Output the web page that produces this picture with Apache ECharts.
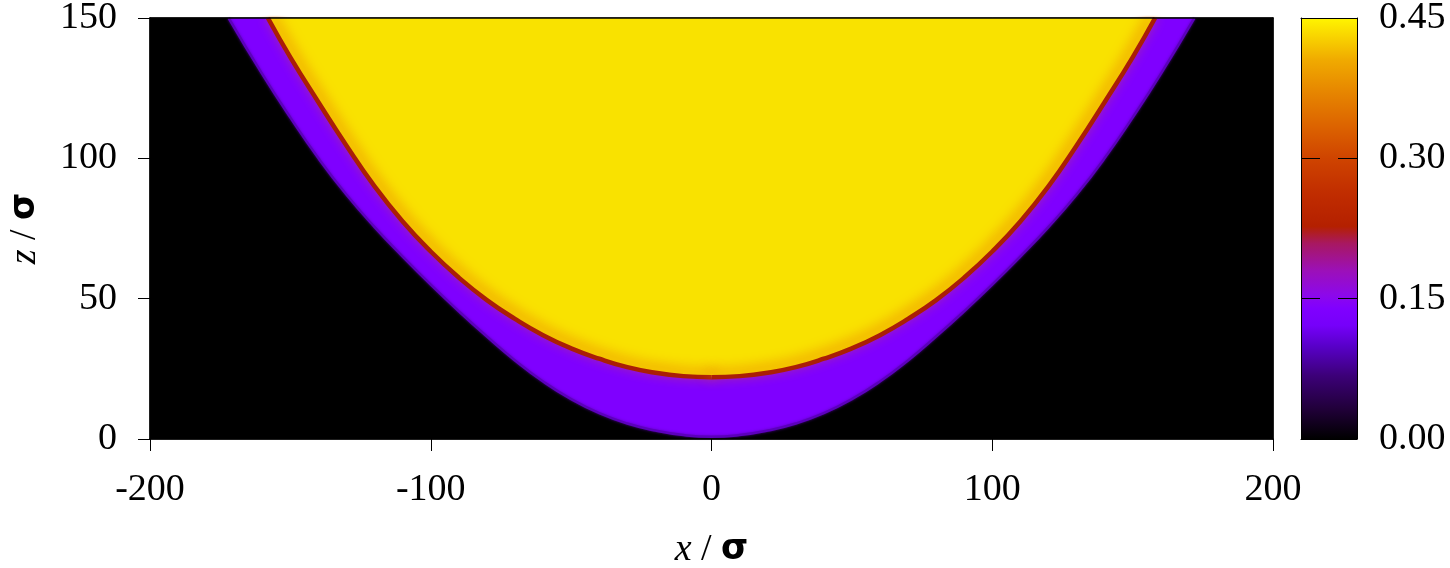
<!DOCTYPE html>
<html>
<head>
<meta charset="utf-8">
<script src="https://cdn.jsdelivr.net/npm/echarts@6.0.0/dist/echarts.min.js"></script>
<style>
  html, body { margin: 0; padding: 0; background: #fff; }
  #chart { width: 1450px; height: 568px; }
</style>
</head>
<body>
<div id="chart"></div>
<script>
// outer edge of the purple band (x / sigma, z / sigma)
const outerX = [-172, -160, -150, -140, -130, -120, -110, -100, -90, -80, -70, -60, -50, -40, -30, -20, -10, 0, 10, 20, 30, 40, 50, 60, 70, 80, 90, 100, 110, 120, 130, 140, 150, 160, 172]
const outerZ = [150, 130, 114.5, 100, 87, 75.5, 65, 55, 45.5, 36.5, 28, 20.5, 14.2, 9.2, 5.5, 3.0, 1.4, 0.8, 1.4, 3.0, 5.5, 9.2, 14.2, 20.5, 28, 36.5, 45.5, 55, 65, 75.5, 87, 100, 114.5, 130, 150]

// edge of the yellow region (centre of the red rim)
const innerX = [-158, -150, -140, -130, -120, -110, -100, -90, -80, -70, -60, -50, -40, -30, -20, -10, 0, 10, 20, 30, 40, 50, 60, 70, 80, 90, 100, 110, 120, 130, 140, 150, 158]
const innerZ = [150, 136, 120, 104.5, 90, 77.5, 66.8, 57.5, 49.5, 42.8, 37, 32.3, 28.6, 25.6, 23.6, 22.4, 22, 22.4, 23.6, 25.6, 28.6, 32.3, 37, 42.8, 49.5, 57.5, 66.8, 77.5, 90, 104.5, 120, 136, 150]

const xTicks = [-200, 200, 100]
const zTicks = [0, 150, 50]
const cbTicks = [0, 0.45, 0.15]

const serif = 'Liberation Serif'
const chart = echarts.init(document.getElementById('chart'))

const outerData = outerX.map((x, i) => [x, outerZ[i]])
const innerData = innerX.map((x, i) => [x, innerZ[i]])
const mid = innerX.indexOf(0)
const innerLeft = innerData.slice(0, mid + 1)
const innerRight = innerData.slice(mid)

const cbGradient = new echarts.graphic.LinearGradient(0, 1, 0, 0, [
  { offset: 0, color: '#000000' },
  { offset: 0.07, color: '#200038' },
  { offset: 0.15, color: '#3c0078' },
  { offset: 0.22, color: '#5800c8' },
  { offset: 0.27, color: '#7600fa' },
  { offset: 0.31, color: '#8000ff' },
  { offset: 0.34, color: '#8c08ec' },
  { offset: 0.40, color: '#9c10b8' },
  { offset: 0.465, color: '#a81860' },
  { offset: 0.505, color: '#b42000' },
  { offset: 0.58, color: '#c02c00' },
  { offset: 0.667, color: '#cf4400' },
  { offset: 0.74, color: '#dc6200' },
  { offset: 0.82, color: '#e68400' },
  { offset: 0.90, color: '#f0aa00' },
  { offset: 1, color: '#fff500' },
])

function rimLine(data, dx) {
  return {
    type: 'line',
    xAxisIndex: 0,
    yAxisIndex: 0,
    data: data,
    smooth: 0.5,
    symbol: 'none',
    silent: true,
    lineStyle: {
      color: '#aa1e06', width: 4.5,
      shadowBlur: 13, shadowColor: 'rgba(232,112,0,1)',
      shadowOffsetX: dx, shadowOffsetY: -4,
    },
  }
}

const labelFont = { fontFamily: serif, fontSize: 38, color: '#000' }
const nameRich = {
  i: { fontFamily: serif, fontStyle: 'italic', fontSize: 38, color: '#000' },
  s: { fontFamily: 'DejaVu Sans', fontWeight: 'bold', fontSize: 35, color: '#000' },
}
const frame = { show: true, onZero: false, lineStyle: { color: '#000', width: 1.5 } }
const thinFrame = { show: true, onZero: false, lineStyle: { color: '#000', width: 1 } }

const option = {
  animation: false,
  grid: [
    {
      left: 150, right: 177, top: 18, bottom: 129,
      outerBoundsMode: 'none',
      show: true, backgroundColor: '#000', borderColor: '#000', borderWidth: 1,
    },
    {
      left: 1301, right: 93, top: 18, bottom: 129,
      outerBoundsMode: 'none',
      show: false,
    },
  ],
  xAxis: [
    {
      type: 'value',
      gridIndex: 0,
      position: 'bottom',
      min: xTicks[0],
      max: xTicks[1],
      interval: xTicks[2],
      z: 10,
      splitLine: { show: false },
      axisLine: frame,
      axisTick: { show: true, inside: false, length: 12, lineStyle: { color: '#000', width: 1 } },
      axisLabel: Object.assign({ margin: 32 }, labelFont),
      name: '{i|x} / {s|σ}',
      nameLocation: 'middle',
      nameGap: 92,
      nameTextStyle: Object.assign({ rich: nameRich }, labelFont),
    },
    {
      // top frame line
      type: 'value',
      gridIndex: 0,
      position: 'top',
      min: xTicks[0],
      max: xTicks[1],
      z: 10,
      splitLine: { show: false },
      axisLine: frame,
      axisTick: { show: false },
      axisLabel: { show: false },
    },
    {
      type: 'category',
      gridIndex: 1,
      position: 'bottom',
      data: ['cb'],
      z: 5,
      axisLine: thinFrame,
      axisTick: { show: false },
      axisLabel: { show: false },
    },
    {
      type: 'category',
      gridIndex: 1,
      position: 'top',
      data: ['cb'],
      z: 5,
      axisLine: thinFrame,
      axisTick: { show: false },
      axisLabel: { show: false },
    },
  ],
  yAxis: [
    {
      type: 'value',
      gridIndex: 0,
      position: 'left',
      min: zTicks[0],
      max: zTicks[1],
      interval: zTicks[2],
      z: 10,
      splitLine: { show: false },
      axisLine: frame,
      axisTick: { show: true, inside: false, length: 12, lineStyle: { color: '#000', width: 1 } },
      axisLabel: Object.assign({ margin: 33 }, labelFont),
      name: '{i|z} / {s|σ}',
      nameLocation: 'middle',
      nameGap: 106,
      nameTextStyle: Object.assign({ rich: nameRich }, labelFont),
    },
    {
      // right frame line
      type: 'value',
      gridIndex: 0,
      position: 'right',
      min: zTicks[0],
      max: zTicks[1],
      z: 10,
      splitLine: { show: false },
      axisLine: frame,
      axisTick: { show: false },
      axisLabel: { show: false },
    },
    {
      type: 'value',
      gridIndex: 1,
      position: 'right',
      min: cbTicks[0],
      max: cbTicks[1],
      interval: cbTicks[2],
      z: 5,
      splitLine: { show: false },
      axisLine: thinFrame,
      axisTick: { show: true, inside: true, length: 19, lineStyle: { color: '#000', width: 1 } },
      axisLabel: Object.assign({ margin: 22, formatter: v => v.toFixed(2) }, labelFont),
    },
    {
      type: 'value',
      gridIndex: 1,
      position: 'left',
      min: cbTicks[0],
      max: cbTicks[1],
      interval: cbTicks[2],
      z: 5,
      splitLine: { show: false },
      axisLine: thinFrame,
      axisTick: { show: true, inside: true, length: 19, lineStyle: { color: '#000', width: 1 } },
      axisLabel: { show: false },
    },
  ],
  series: [
    {
      // purple band, filled from its outer edge up to the top of the plot
      type: 'line',
      xAxisIndex: 0,
      yAxisIndex: 0,
      data: outerData,
      smooth: 0.5,
      symbol: 'none',
      silent: true,
      lineStyle: { color: '#5c00bc', width: 2.5, shadowBlur: 3, shadowColor: 'rgba(90,0,180,0.8)' },
      areaStyle: { origin: 'end', color: '#7f00ff', opacity: 1 },
    },
    {
      // yellow region
      type: 'line',
      xAxisIndex: 0,
      yAxisIndex: 0,
      data: innerData,
      smooth: 0.5,
      symbol: 'none',
      silent: true,
      lineStyle: { width: 0, opacity: 0 },
      areaStyle: { origin: 'end', color: '#f9e200', opacity: 1 },
    },
    // red rim, glow pushed towards the inside on each half
    rimLine(innerLeft, 3),
    rimLine(innerRight, -3),
    {
      // colour bar
      type: 'bar',
      xAxisIndex: 2,
      yAxisIndex: 2,
      data: [cbTicks[1]],
      barWidth: '100%',
      silent: true,
      itemStyle: { color: cbGradient },
    },
  ],
}

chart.setOption(option)
</script>
</body>
</html>
